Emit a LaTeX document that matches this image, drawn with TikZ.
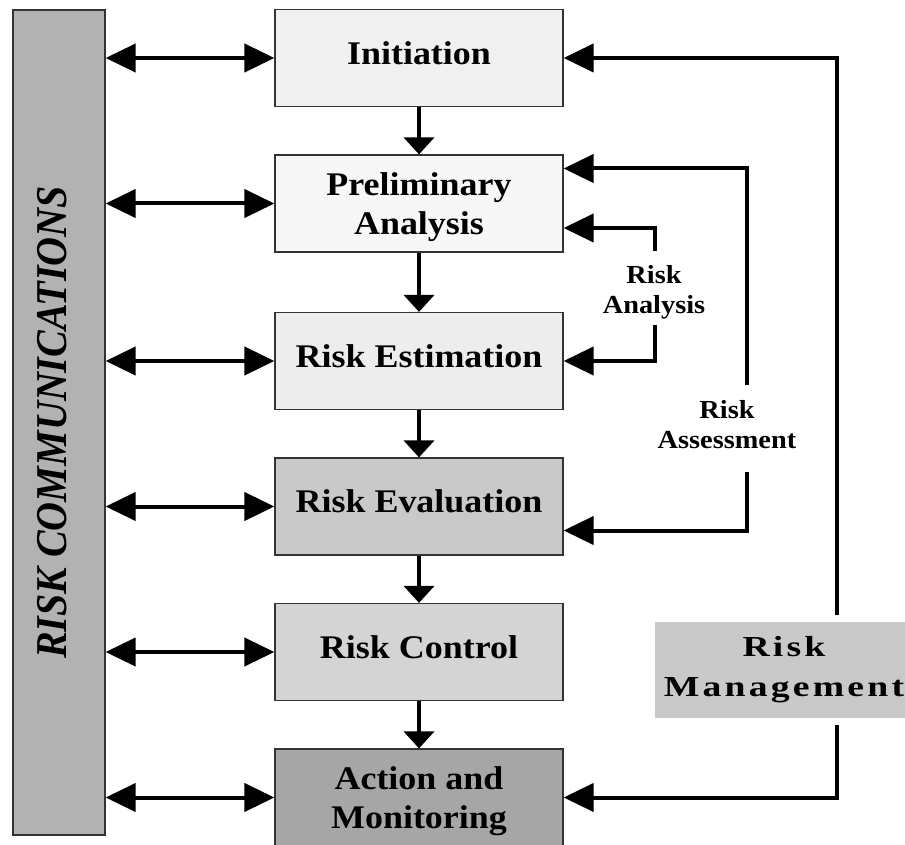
\documentclass[tikz,border=0pt]{standalone}
\usepackage{fontspec}
\setmainfont{Liberation Serif}[FakeStretch=1.09]
\newfontfamily\commfont{Liberation Serif}[FakeStretch=0.91]
\newfontfamily\mgmtfont{Liberation Serif}[FakeStretch=1.3,LetterSpace=11]
\usetikzlibrary{arrows.meta, positioning}

\begin{document}
\begin{tikzpicture}[x=1pt, y=-1pt,
	box/.style={draw=black!80, line width=1.2pt, minimum width=288pt, minimum height=97pt, inner sep=0pt, align=center, text depth=0pt, font=\bfseries\fontsize{33}{39}\selectfont},
	one/.style={box, text depth=10pt},
	tag/.style={inner sep=0pt, align=center, font=\bfseries\fontsize{26}{30}\selectfont},
	link/.style={line width=4pt, -{Triangle[length=30pt, width=28pt]}},
	both/.style={line width=4pt, {Triangle[length=30pt, width=28pt]}-{Triangle[length=30pt, width=28pt]}},
	down/.style={line width=4pt, -{Triangle[length=17pt, width=30pt]}}]
	\useasboundingbox (0,0) rectangle (905,845);
	\node[draw=black!80, line width=1.2pt, fill=black!30, minimum width=92pt, minimum height=825pt, inner sep=0pt] (comm) at (59,422.5) {\rotatebox{90}{\commfont\bfseries\itshape\fontsize{44}{50}\selectfont RISK COMMUNICATIONS}\hspace*{14pt}\mbox{}};
	\node[one, fill=black!6] (init) at (419,58) {Initiation};
	\node[box, fill=black!3] (prelim) at (419,203.5) {Preliminary\\Analysis};
	\node[one, fill=black!7] (est) at (419,361) {Risk Estimation};
	\node[one, fill=black!21] (eval) at (419,506.5) {Risk Evaluation};
	\node[one, fill=black!17] (ctrl) at (419,652) {Risk Control};
	\node[box, fill=black!35] (act) at (419,797.5) {Action and\\Monitoring};
	\node[tag] (analysis) at (654,292) {Risk\\Analysis};
	\node[tag] (assess) at (727,425) {Risk\\Assessment};
	\node[fill=black!21, minimum width=258pt, minimum height=96pt, inner sep=0pt, align=center, font=\mgmtfont\bfseries\fontsize{29}{40}\selectfont] (mgmt) at (784,670) {Risk\\Management};
	\coordinate (an1) at (655,251);
	\coordinate (an2) at (655,325);
	\coordinate (as1) at (747,385);
	\coordinate (as2) at (747,472);
	\coordinate (mg1) at (837,615);
	\coordinate (mg2) at (837,725);
	\foreach \b in {init, prelim, est, eval, ctrl, act}
		\draw[both] (comm.east |- \b.west) -- (\b.west);
	\draw[down] (init) -- (prelim);
	\draw[down] (prelim) -- (est);
	\draw[down] (est) -- (eval);
	\draw[down] (eval) -- (ctrl);
	\draw[down] (ctrl) -- (act);
	\draw[link] (an1) |- ([yshift=-24.5pt]prelim.east);
	\draw[link] (an2) |- (est.east);
	\draw[link] (as1) |- ([yshift=35pt]prelim.east);
	\draw[link] (as2) |- ([yshift=-24pt]eval.east);
	\draw[link] (mg1) |- (init.east);
	\draw[link] (mg2) |- (act.east);
\end{tikzpicture}
\end{document}
